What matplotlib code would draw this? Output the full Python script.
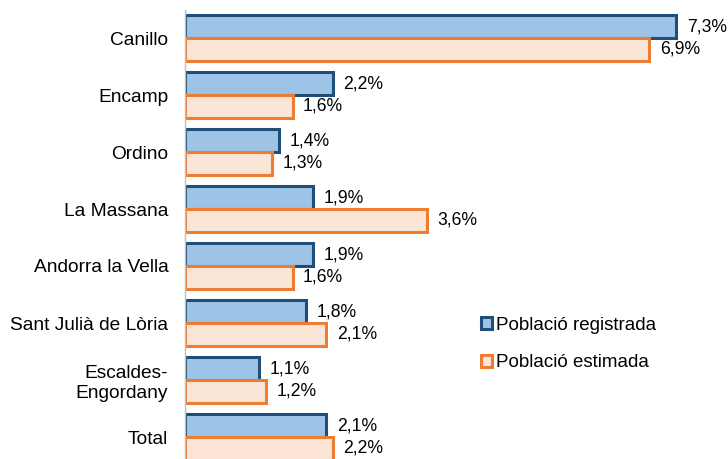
import matplotlib
matplotlib.use("Agg")
import matplotlib.pyplot as plt
from matplotlib.patches import Patch
import numpy as np

plt.rcParams['font.family'] = ['Liberation Sans', 'DejaVu Sans']

categories = ["Canillo", "Encamp", "Ordino", "La Massana", "Andorra la Vella",
              "Sant Julià de Lòria", "Escaldes-\nEngordany", "Total"]
registrada = [7.3, 2.2, 1.4, 1.9, 1.9, 1.8, 1.1, 2.1]
estimada = [6.9, 1.6, 1.3, 3.6, 1.6, 2.1, 1.2, 2.2]
series_names = ["Població registrada", "Població estimada"]

blue_fill, blue_edge = "#9DC3E6", "#1F4E79"
org_fill, org_edge = "#FBE5D6", "#ED7D31"

W, H = 728, 459
fig = plt.figure(figsize=(W/100, H/100), dpi=100)
ax = fig.add_axes([185/W, 0, (W-185)/W, 449.5/H])

y = np.arange(len(categories))
h = 0.40
lw = 2.2
ax.barh(y - h/2, registrada, height=h, color=blue_fill, edgecolor=blue_edge, linewidth=lw)
ax.barh(y + h/2, estimada, height=h, color=org_fill, edgecolor=org_edge, linewidth=lw)

def fmt(v):
    return f"{v:.1f}%".replace(".", ",")

for yi, v in zip(y, registrada):
    ax.annotate(fmt(v), (v, yi - h/2), xytext=(7.5, 0), textcoords="offset points",
                va="center", ha="left", fontsize=12.7, color="#000000")
for yi, v in zip(y, estimada):
    ax.annotate(fmt(v), (v, yi + h/2), xytext=(7.5, 0), textcoords="offset points",
                va="center", ha="left", fontsize=12.7, color="#000000")

ax.set_xlim(0, (W-185)/67.3)
ax.set_ylim(-0.5 + 449.5/57, -0.5)
ax.set_yticks(y)
ax.set_yticklabels(categories, fontsize=13.8, ha="right")
ax.tick_params(axis="y", length=0, pad=12)
ax.set_xticks([])
for s in ["top", "right", "bottom"]:
    ax.spines[s].set_visible(False)
ax.spines["left"].set_color("#BFBFBF")
ax.spines["left"].set_linewidth(1)

handles = [Patch(facecolor=blue_fill, edgecolor=blue_edge, linewidth=2.2),
           Patch(facecolor=org_fill, edgecolor=org_edge, linewidth=2.2)]
fig.legend(handles, series_names, loc="center left", bbox_to_anchor=(464/W, 1 - 344/H),
           frameon=False, fontsize=13.5, handlelength=0.6, handleheight=0.6,
           handletextpad=0.2, labelspacing=1.1)

fig.savefig("out.png", dpi=100)
